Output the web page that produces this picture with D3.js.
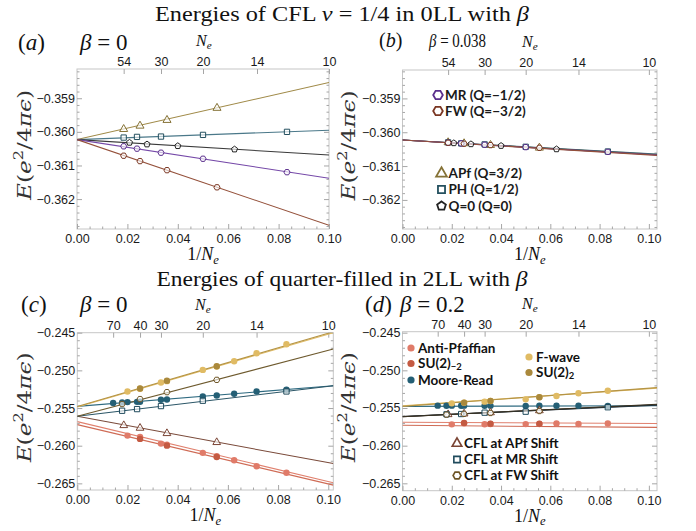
<!DOCTYPE html>
<html>
<head>
<meta charset="utf-8">
<script src="https://cdn.jsdelivr.net/npm/d3@7"></script>
<style>
  body { margin: 0; background: #fff; }
  svg { display: block; }
</style>
</head>
<body>
<script>
const serif = "'Liberation Serif','Times New Roman',serif";
const wideSerif = "'DejaVu Serif','Liberation Serif',serif";
const sans = "'Liberation Sans',Arial,sans-serif";
const legendFont = "Lato,'Open Sans',sans-serif";

// top axis: particle numbers N_e
const neTopA = [54, 30, 20, 14, 10];
const neTopC = [70, 40, 30, 20, 14, 10];
const xMajor = [0, 0.02, 0.04, 0.06, 0.08, 0.10];
const yTicksA = [-0.362, -0.361, -0.360, -0.359];
const yTicksC = [-0.265, -0.260, -0.255, -0.250, -0.245];

// (a) beta = 0, CFL nu = 1/4 in 0LL
const aAPfN = [54, 40, 28, 18], aAPfE = [-0.35992, -0.35982, -0.35965, -0.35929];
const aPHN = [54, 42, 30, 20, 12], aPHE = [-0.36017, -0.36015, -0.36014, -0.36009, -0.36000];
const aQ0N = [48, 36, 25, 16], aQ0E = [-0.36032, -0.36037, -0.36042, -0.36052];
const aMRN = [54, 42, 30, 20, 12], aMRE = [-0.36043, -0.36050, -0.36062, -0.36080, -0.36120];
const aFWN = [54, 40, 28, 18], aFWE = [-0.36071, -0.36087, -0.36114, -0.36165];
// linear fits E = a + b/N_e, order APf, PH, Q0, MR, FW
const aFitA = [-0.36023, -0.36023, -0.36023, -0.36023, -0.36023];
const aFitB = [0.0170, 0.0028, -0.0046, -0.0115, -0.0255];

// (b) beta = 0.038
const bAPfE = [-0.36030, -0.36033, -0.36038, -0.36046];
const bPHE = [-0.36030, -0.36033, -0.36036, -0.36043, -0.36057];
const bQ0E = [-0.36032, -0.36035, -0.36040, -0.36050];
const bMRE = [-0.36031, -0.36033, -0.36037, -0.36044, -0.36058];
const bFWE = [-0.36031, -0.36034, -0.36038, -0.36046];
const bFitA = [-0.36023, -0.36023, -0.36023, -0.36023, -0.36023];
const bFitB = [-0.0041, -0.0040, -0.0042, -0.0043, -0.0044];

// (c) beta = 0, quarter filling in 2LL
const pfN = [50, 40, 30, 28, 20, 18, 16, 14, 12];
const su2N = [40, 28, 18];
const mrN = [70, 56, 50, 42, 40, 30, 28, 20, 18, 16, 14, 12];
const cflApfN = [54, 40, 28, 18];
const cflMrN = [56, 42, 30, 20, 12];
const cflFwN = [56, 40, 28, 18];
const cAPE = [-0.25866, -0.25884, -0.25972, -0.25986, -0.26095, -0.26140, -0.26193, -0.26273, -0.26360];
const cSU2mE = [-0.25910, -0.25999, -0.26150];
const cMRE = [-0.25434, -0.25426, -0.25421, -0.25418, -0.25417, -0.25390, -0.25386, -0.25347, -0.25333, -0.25311, -0.25280, -0.25258];
const cFWvE = [-0.25280, -0.25245, -0.25161, -0.25143, -0.24994, -0.24950, -0.24879, -0.24773, -0.24654];
const cSU2E = [-0.25240, -0.25138, -0.24945];
const cCApfE = [-0.25730, -0.25765, -0.25836, -0.25955];
const cCMrE = [-0.25536, -0.25514, -0.25474, -0.25403, -0.25280];
const cCFwE = [-0.25447, -0.25381, -0.25289, -0.25126];
// fits, order AP, SU(2)-2, MR, F-wave, SU(2)2, CFL-APf, CFL-MR, CFL-FW
const cFitA = [-0.25680, -0.25720, -0.25478, -0.25487, -0.25480, -0.25610, -0.25610, -0.25610];
const cFitB = [-0.0796, -0.0788, 0.0268, 0.0968, 0.0973, -0.0615, 0.0397, 0.0876];

// (d) beta = 0.2
const dAPE = [-0.25717, -0.25703, -0.25715, -0.25712, -0.25714, -0.25712, -0.25705, -0.25712, -0.25705];
const dSU2mE = [-0.25698, -0.25708, -0.25710];
const dMRE = [-0.25469, -0.25470, -0.25469, -0.25470, -0.25469, -0.25470, -0.25469, -0.25472, -0.25471, -0.25470, -0.25470, -0.25472];
const dFWvE = [-0.25438, -0.25430, -0.25416, -0.25407, -0.25385, -0.25358, -0.25341, -0.25305, -0.25270];
const dSU2E = [-0.25428, -0.25405, -0.25356];
const dCApfE = [-0.25585, -0.25576, -0.25560, -0.25533];
const dCMrE = [-0.25584, -0.25580, -0.25562, -0.25549, -0.25490];
const dCFwE = [-0.25588, -0.25578, -0.25566, -0.25540];
const dFitA = [-0.25690, -0.25730, -0.25478, -0.25472, -0.25478, -0.25614, -0.25612, -0.25616];
const dFitB = [-0.0015, -0.0027, 0.0008, 0.0228, 0.0240, 0.0153, 0.0145, 0.0161];

// custom polygon markers
function polygon(n, rot) {
  return {
    draw(ctx, size) {
      const r = Math.sqrt(size / (n / 2 * Math.sin(2 * Math.PI / n)));
      for (let i = 0; i < n; i++) {
        const t = rot + i * 2 * Math.PI / n;
        if (i) ctx.lineTo(r * Math.cos(t), r * Math.sin(t));
        else ctx.moveTo(r * Math.cos(t), r * Math.sin(t));
      }
      ctx.closePath();
    }
  };
}
const symPent = polygon(5, -Math.PI / 2);
const symHex = polygon(6, 0);

// styles for the 0LL series (APf, PH, Q0, MR, FW)
const styA = [
  { line: "#a08a48", mk: "#857236", sym: d3.symbolTriangle, size: 28 },
  { line: "#4a7889", mk: "#24505f", sym: d3.symbolSquare, size: 28 },
  { line: "#3a3a3a", mk: "#222", sym: symPent, size: 24 },
  { line: "#7548a8", mk: "#5a2e8c", sym: symHex, size: 24 },
  { line: "#94503a", mk: "#7a3622", sym: symHex, size: 24 }
];
// styles for the 2LL series
const styC = [
  { line: "#e0806e", mk: "#e07b69", fill: true },
  { line: "#cf6b55", mk: "#c45a42", fill: true },
  { line: "#2e6a80", mk: "#245f75", fill: true },
  { line: "#e2bd67", mk: "#e0bb64", fill: true },
  { line: "#b59445", mk: "#aa893c", fill: true },
  { line: "#7a4a3a", mk: "#7a4434", sym: d3.symbolTriangle, size: 26 },
  { line: "#2b5667", mk: "#1f4a5c", sym: d3.symbolSquare, size: 28 },
  { line: "#6e5a2e", mk: "#6e5526", sym: symHex, size: 24 }
];
const styD = styC.map((s, i) => i >= 5 ? Object.assign({}, s, { line: ["#4b3026", "#1f3440", "#3a3220"][i - 5] }) : s);

function mkSeries(Ns, Es, fa, fb, sty) {
  return Ns.map((n, i) => Object.assign({ n: n, e: Es[i], a: fa[i], b: fb[i] }, sty[i]));
}
const aSeries = mkSeries([aAPfN, aPHN, aQ0N, aMRN, aFWN], [aAPfE, aPHE, aQ0E, aMRE, aFWE], aFitA, aFitB, styA);
const bSeries = mkSeries([aAPfN, aPHN, aQ0N, aMRN, aFWN], [bAPfE, bPHE, bQ0E, bMRE, bFWE], bFitA, bFitB, styA);
const cNs = [pfN, su2N, mrN, pfN, su2N, cflApfN, cflMrN, cflFwN];
const cSeries = mkSeries(cNs, [cAPE, cSU2mE, cMRE, cFWvE, cSU2E, cCApfE, cCMrE, cCFwE], cFitA, cFitB, styC);
const dSeries = mkSeries(cNs, [dAPE, dSU2mE, dMRE, dFWvE, dSU2E, dCApfE, dCMrE, dCFwE], dFitA, dFitB, styD);

const svg = d3.select("body").append("svg").attr("width", 696).attr("height", 531);

function rich(sel, x, y, size, parts, opts) {
  opts = opts || {};
  const t = sel.append("text").attr("x", x).attr("y", y)
    .attr("font-family", opts.font || serif).attr("font-size", size)
    .attr("text-anchor", opts.anchor || "start").attr("fill", opts.fill || "#111");
  if (opts.weight) t.attr("font-weight", opts.weight);
  if (opts.len) t.attr("textLength", opts.len).attr("lengthAdjust", opts.adjust || "spacingAndGlyphs");
  if (opts.rotate) t.attr("transform", `rotate(-90,${x},${y})`);
  let shift = 0;
  parts.forEach(p => {
    const s = t.append("tspan").text(p.t);
    if (p.i) s.attr("font-style", "italic");
    const target = p.sub ? (opts.subShift || 0.28) * size : p.sup ? -0.42 * size : 0;
    if (target !== shift) { s.attr("dy", target - shift); shift = target; }
    if (p.sub || p.sup) s.attr("font-size", size * 0.7);
  });
  return t;
}

function drawPanel(p) {
  const x = d3.scaleLinear().domain([0, p.xMax]).range([p.x0, p.x1]);
  const y = d3.scaleLinear().domain(p.yDom).range([p.y1, p.y0]);
  const g = svg.append("g");
  const clipId = "clip" + p.id;
  g.append("clipPath").attr("id", clipId).append("rect")
    .attr("x", p.x0).attr("y", p.y0).attr("width", p.x1 - p.x0).attr("height", p.y1 - p.y0);

  g.append("rect").attr("x", p.x0).attr("y", p.y0)
    .attr("width", p.x1 - p.x0).attr("height", p.y1 - p.y0)
    .attr("fill", "#fff").attr("stroke", "#c6c6c6").attr("stroke-width", 1);

  const xMinor = d3.range(1, Math.floor(p.xMax / 0.005 + 1e-6) + 1).map(k => k * 0.005)
    .filter(v => Math.abs(v / 0.02 - Math.round(v / 0.02)) > 1e-6);
  const yMinor = d3.range(Math.ceil(p.yDom[0] / p.yStep), Math.floor(p.yDom[1] / p.yStep) + 1)
    .map(k => k * p.yStep)
    .filter(v => !p.yTicks.some(t => Math.abs(t - v) < p.yStep / 10));

  function style(s) {
    s.select(".domain").remove();
    s.selectAll(".tick line").attr("stroke", "#a6a6a6");
    s.selectAll("text").attr("font-family", sans).attr("font-size", 12.5).attr("fill", "#1a1a1a");
  }
  const fmtY = d3.format(".3f");
  g.append("g").attr("transform", `translate(0,${p.y1})`)
    .call(d3.axisBottom(x).tickValues(xMajor).tickFormat(d3.format(".2f")).tickSizeInner(-5).tickSizeOuter(0).tickPadding(5)).call(style);
  g.append("g").attr("transform", `translate(0,${p.y1})`)
    .call(d3.axisBottom(x).tickValues(xMinor).tickFormat("").tickSizeInner(-2.5).tickSizeOuter(0)).call(style);
  g.append("g").attr("transform", `translate(0,${p.y0})`)
    .call(d3.axisTop(x).tickValues(p.neTop.map(n => 1 / n)).tickFormat((d, i) => p.neTop[i]).tickSizeInner(-5).tickSizeOuter(0).tickPadding(3)).call(style);
  g.append("g").attr("transform", `translate(${p.x0},0)`)
    .call(d3.axisLeft(y).tickValues(p.yTicks).tickFormat(fmtY).tickSizeInner(-5).tickSizeOuter(0).tickPadding(2)).call(style);
  g.append("g").attr("transform", `translate(${p.x0},0)`)
    .call(d3.axisLeft(y).tickValues(yMinor).tickFormat("").tickSizeInner(-2.5).tickSizeOuter(0)).call(style);
  g.append("g").attr("transform", `translate(${p.x1},0)`)
    .call(d3.axisRight(y).tickValues(p.yTicks).tickFormat("").tickSizeInner(-5).tickSizeOuter(0)).call(style);
  g.append("g").attr("transform", `translate(${p.x1},0)`)
    .call(d3.axisRight(y).tickValues(yMinor).tickFormat("").tickSizeInner(-2.5).tickSizeOuter(0)).call(style);

  // fit lines
  const lines = g.append("g").attr("clip-path", `url(#${clipId})`);
  p.series.forEach(s => {
    const pts = [0, p.xMax].map(v => [x(v), y(s.a + s.b * v)]);
    lines.append("path").attr("d", d3.line()(pts))
      .attr("fill", "none").attr("stroke", s.line).attr("stroke-width", 1.1);
  });
  // data points
  const pts = g.append("g");
  p.series.forEach(s => {
    const data = d3.zip(s.n, s.e);
    if (s.fill) {
      pts.selectAll(null).data(data).join("circle")
        .attr("cx", d => x(1 / d[0])).attr("cy", d => y(d[1])).attr("r", 3.2)
        .attr("fill", s.mk);
    } else {
      pts.selectAll(null).data(data).join("path")
        .attr("transform", d => `translate(${x(1 / d[0])},${y(d[1])})`)
        .attr("d", d3.symbol(s.sym, s.size))
        .attr("fill", "#fff").attr("fill-opacity", 0.6).attr("stroke", s.mk).attr("stroke-width", 1);
    }
  });

  // axis titles
  rich(svg, (p.x0 + p.x1) / 2, p.y1 + 31, 18, [{ t: "1/" }, { t: "N", i: true }, { t: "e", i: true, sub: true }], { anchor: "middle", subShift: 0.2 });
  rich(svg, p.ylabX, (p.y0 + p.y1) / 2 - 4, 18,
    [{ t: "E", i: true }, { t: "(" }, { t: "e", i: true }, { t: "2", sup: true }, { t: "/4" }, { t: "πϵ", i: true }, { t: ")" }],
    { anchor: "middle", rotate: true, len: 110, font: wideSerif, fill: "#333" });
  rich(svg, p.neX, p.y0 - 23, 16, [{ t: "N", i: true }, { t: "e", i: true, sub: true }], { subShift: 0.2 });
  return { x, y };
}

// titles and panel headers
rich(svg, 342, 21, 22, [{ t: "Energies of CFL " }, { t: "ν", i: true }, { t: " = 1/4 in 0LL with " }, { t: "β", i: true }], { anchor: "middle", len: 374 });
rich(svg, 342, 286, 22, [{ t: "Energies of quarter-filled in 2LL with " }, { t: "β", i: true }], { anchor: "middle", len: 371 });

rich(svg, 18, 50, 23, [{ t: "(" }, { t: "a", i: true }, { t: ")" }]);
rich(svg, 80, 50, 23, [{ t: "β", i: true }, { t: " = 0" }]);
rich(svg, 379, 47, 20, [{ t: "(" }, { t: "b", i: true }, { t: ")" }]);
rich(svg, 429, 47, 19, [{ t: "β", i: true }, { t: " = 0.038" }], { len: 57 });
rich(svg, 21, 312, 23, [{ t: "(" }, { t: "c", i: true }, { t: ")" }]);
rich(svg, 80, 312, 23, [{ t: "β", i: true }, { t: " = 0" }]);
rich(svg, 365, 312, 23, [{ t: "(" }, { t: "d", i: true }, { t: ")" }]);
rich(svg, 400, 312, 23, [{ t: "β", i: true }, { t: " = 0.2" }]);

drawPanel({ id: "a", x0: 77, x1: 329, y0: 69, y1: 229, xMax: 0.1, yDom: [-0.36289, -0.35813], yTicks: yTicksA, yStep: 0.0002, neTop: neTopA, series: aSeries, ylabX: 31, neX: 196 });
drawPanel({ id: "b", x0: 402.5, x1: 657, y0: 70, y1: 229, xMax: 0.1033, yDom: [-0.36286, -0.35816], yTicks: yTicksA, yStep: 0.0002, neTop: neTopA, series: bSeries, ylabX: 355, neX: 522 });
drawPanel({ id: "c", x0: 77.3, x1: 333.3, y0: 332.7, y1: 490, xMax: 0.102, yDom: [-0.26588, -0.245], yTicks: yTicksC, yStep: 0.001, neTop: neTopC, series: cSeries, ylabX: 31, neX: 195 });
drawPanel({ id: "d", x0: 402.5, x1: 657, y0: 331.7, y1: 490.7, xMax: 0.1033, yDom: [-0.26598, -0.24487], yTicks: yTicksC, yStep: 0.001, neTop: neTopC, series: dSeries, ylabX: 355, neX: 522 });

// legend (b)
const legB = svg.append("g");
const legBLabels = ["MR (Q=−1/2)", "FW (Q=−3/2)", "APf (Q=3/2)", "PH (Q=1/2)", "Q=0 (Q=0)"];
const legBIdx = [3, 4, 0, 1, 2];
const legBPos = [[438, 95], [438, 111], [441.5, 173.5], [441.5, 189.5], [441.5, 206]];
legBLabels.forEach((lab, k) => {
  const s = styA[legBIdx[k]];
  const [lx, ly] = legBPos[k];
  legB.append("path").attr("transform", `translate(${lx},${ly})`)
    .attr("d", d3.symbol(s.sym, k < 2 ? 60 : 50))
    .attr("fill", "#fff").attr("stroke", s.mk).attr("stroke-width", 1.8);
  legB.append("text").attr("x", lx + 7).attr("y", ly + 4.5).text(lab)
    .attr("font-family", legendFont).attr("font-weight", 700).attr("font-size", 13.5).attr("fill", "#1a1a1a");
});

// legend (d)
const legD = svg.append("g");
const legDItems = [
  { k: 0, x: 411, y: 348, parts: [{ t: "Anti-Pfaffian" }] },
  { k: 1, x: 411, y: 363.5, parts: [{ t: "SU(2)" }, { t: "−2", sub: true }] },
  { k: 2, x: 411, y: 380, parts: [{ t: "Moore-Read" }] },
  { k: 3, x: 529, y: 357, parts: [{ t: "F-wave" }] },
  { k: 4, x: 529, y: 372.5, parts: [{ t: "SU(2)" }, { t: "2", sub: true }] },
  { k: 5, x: 457, y: 443.5, parts: [{ t: "CFL at APf Shift" }] },
  { k: 6, x: 457, y: 459.5, parts: [{ t: "CFL at MR Shift" }] },
  { k: 7, x: 457, y: 475.5, parts: [{ t: "CFL at FW Shift" }] }
];
legDItems.forEach(it => {
  const s = styC[it.k];
  if (s.fill) {
    legD.append("circle").attr("cx", it.x).attr("cy", it.y).attr("r", 3.6).attr("fill", s.mk);
  } else {
    legD.append("path").attr("transform", `translate(${it.x},${it.y})`)
      .attr("d", d3.symbol(s.sym, 40)).attr("fill", "#fff").attr("stroke", s.mk).attr("stroke-width", 1.6);
  }
  rich(legD, it.x + 7, it.y + 4.5, 13.5, it.parts, { font: legendFont, weight: 700, subShift: 0.15 });
});
</script>
</body>
</html>
